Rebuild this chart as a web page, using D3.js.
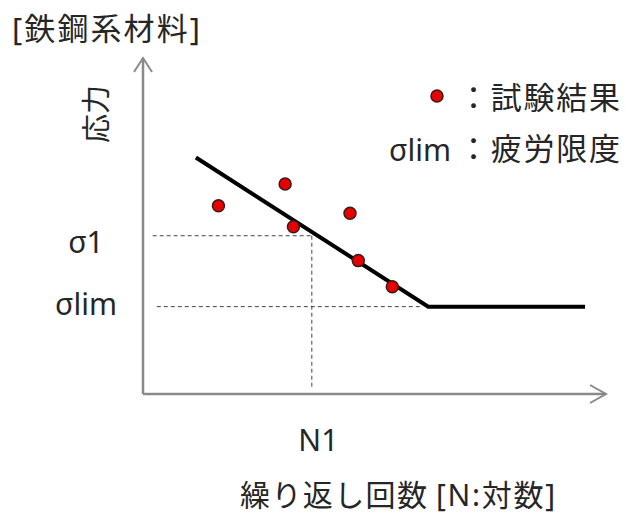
<!DOCTYPE html>
<html>
<head>
<meta charset="utf-8">
<script src="https://cdn.jsdelivr.net/npm/d3@7"></script>
<style>
  html, body { margin: 0; padding: 0; background: #fff; }
  svg { display: block; }
  text { font-family: "Noto Sans", "Noto Sans CJK JP", sans-serif; fill: #262626; }
</style>
</head>
<body>
<svg id="chart" width="626" height="514"></svg>
<script>
// ---- data (chart units: x = log N, y = stress) ----
const testN      = [1.64, 3.09, 3.27, 4.50, 4.68, 5.42];
const testStress = [5.60, 6.25, 4.98, 5.38, 3.97, 3.19];
const snCurveN      = [1.15, 6.20, 9.61];
const snCurveStress = [7.04, 2.60, 2.60];
const sigma1 = 4.71;
const sigmaLim = 2.60;
const N1 = 3.67;
const yTickValues = [sigma1, sigmaLim];
const yTickLabels = ["σ1", "σlim"];
const xTickValues = [N1];
const xTickLabels = ["N1"];
const title = "[鉄鋼系材料]";
const yTitle = "応力";
const xTitleParts = ["繰り返し回数", "[N:対数]"];
const legendLabels = ["：試験結果", "：疲労限度"];
const legendSymbolText = "σlim";

// ---- layout ----
const svg = d3.select("#chart");
const x = d3.scaleLinear().domain([0, 10]).range([143, 603]);
const y = d3.scaleLinear().domain([0, 10]).range([394, 58]);

const axisColor = "#8a8a8a";

// axes lines with open arrowheads
svg.append("line").attr("x1", x(0)).attr("y1", y(0)).attr("x2", x(0)).attr("y2", y(10))
  .attr("stroke", axisColor).attr("stroke-width", 2.5);
svg.append("polyline")
  .attr("points", [[x(0) - 9, y(10) + 14], [x(0), y(10)], [x(0) + 9, y(10) + 14]].join(" "))
  .attr("fill", "none").attr("stroke", axisColor).attr("stroke-width", 2);
svg.append("line").attr("x1", x(0)).attr("y1", y(0)).attr("x2", x(10) + 3).attr("y2", y(0))
  .attr("stroke", axisColor).attr("stroke-width", 2.5);
svg.append("polyline")
  .attr("points", [[x(10) - 13, y(0) - 9], [x(10) + 3, y(0)], [x(10) - 13, y(0) + 9]].join(" "))
  .attr("fill", "none").attr("stroke", axisColor).attr("stroke-width", 2);

// tick labels via d3 axes
const yAxis = d3.axisLeft(y).tickValues(yTickValues)
  .tickFormat((d, i) => yTickLabels[i]).tickSize(0).tickPadding(0);
const gy = svg.append("g").attr("transform", `translate(${x(0)},0)`).call(yAxis);
gy.select(".domain").remove();
gy.selectAll("text")
  .attr("x", -57).attr("text-anchor", "middle")
  .attr("dy", (d, i) => i === 0 ? "0.55em" : "0.25em")
  .style("font-size", "30px").style("font-family", "'Noto Sans', 'Noto Sans CJK JP', sans-serif")
  .attr("fill", "#262626");

const xAxis = d3.axisBottom(x).tickValues(xTickValues)
  .tickFormat((d, i) => xTickLabels[i]).tickSize(0).tickPadding(0);
const gx = svg.append("g").attr("transform", `translate(0,${y(0)})`).call(xAxis);
gx.select(".domain").remove();
gx.selectAll("text")
  .attr("y", 0).attr("dy", 57).attr("dx", 6).attr("text-anchor", "middle")
  .style("font-size", "30px").style("font-family", "'Noto Sans', 'Noto Sans CJK JP', sans-serif")
  .attr("fill", "#262626");

// dashed guide lines
const dash = { stroke: "#444", "stroke-width": 1, "stroke-dasharray": "4,3" };
function dashed(x1, y1, x2, y2) {
  const l = svg.append("line").attr("x1", x(x1)).attr("y1", y(y1)).attr("x2", x(x2)).attr("y2", y(y2));
  Object.entries(dash).forEach(([k, v]) => l.attr(k, v));
}
dashed(0.21, sigma1, N1, sigma1);
dashed(N1, sigma1, N1, 0.18);
dashed(0.30, sigmaLim, 6.02, sigmaLim);

// S-N curve
const line = d3.line().x(d => x(d[0])).y(d => y(d[1]));
svg.append("path")
  .attr("d", line(snCurveN.map((n, i) => [n, snCurveStress[i]])))
  .attr("fill", "none").attr("stroke", "#000").attr("stroke-width", 4)
  .attr("stroke-linejoin", "miter");

// test results
svg.selectAll("circle.pt").data(testN.map((n, i) => [n, testStress[i]])).enter()
  .append("circle").attr("class", "pt")
  .attr("cx", d => x(d[0])).attr("cy", d => y(d[1])).attr("r", 6)
  .attr("fill", "#e80000").attr("stroke", "#3a1a1a").attr("stroke-width", 1.5);

// titles
svg.append("text").attr("x", 12).attr("y", 40).style("font-size", "31px")
  .attr("textLength", 188).attr("lengthAdjust", "spacing").text(title);
svg.append("text")
  .attr("transform", `translate(107,114) rotate(-90)`)
  .attr("text-anchor", "middle").style("font-size", "29px").text(yTitle);
svg.append("text").attr("x", 240).attr("y", 506).style("font-size", "30px")
  .attr("textLength", 187).attr("lengthAdjust", "spacing").text(xTitleParts[0]);
svg.append("text").attr("x", 436).attr("y", 506).style("font-size", "30px")
  .attr("textLength", 119).attr("lengthAdjust", "spacing").text(xTitleParts[1]);

// legend
svg.append("circle").attr("cx", 437).attr("cy", 96).attr("r", 6)
  .attr("fill", "#e80000").attr("stroke", "#3a1a1a").attr("stroke-width", 1.5);
svg.append("text").attr("x", 458).attr("y", 109).style("font-size", "31px")
  .attr("textLength", 162).attr("lengthAdjust", "spacing").text(legendLabels[0]);
svg.append("text").attr("x", 451).attr("y", 161).attr("text-anchor", "end")
  .style("font-size", "30px").text(legendSymbolText);
svg.append("text").attr("x", 458).attr("y", 160).style("font-size", "31px")
  .attr("textLength", 162).attr("lengthAdjust", "spacing").text(legendLabels[1]);
</script>
</body>
</html>
